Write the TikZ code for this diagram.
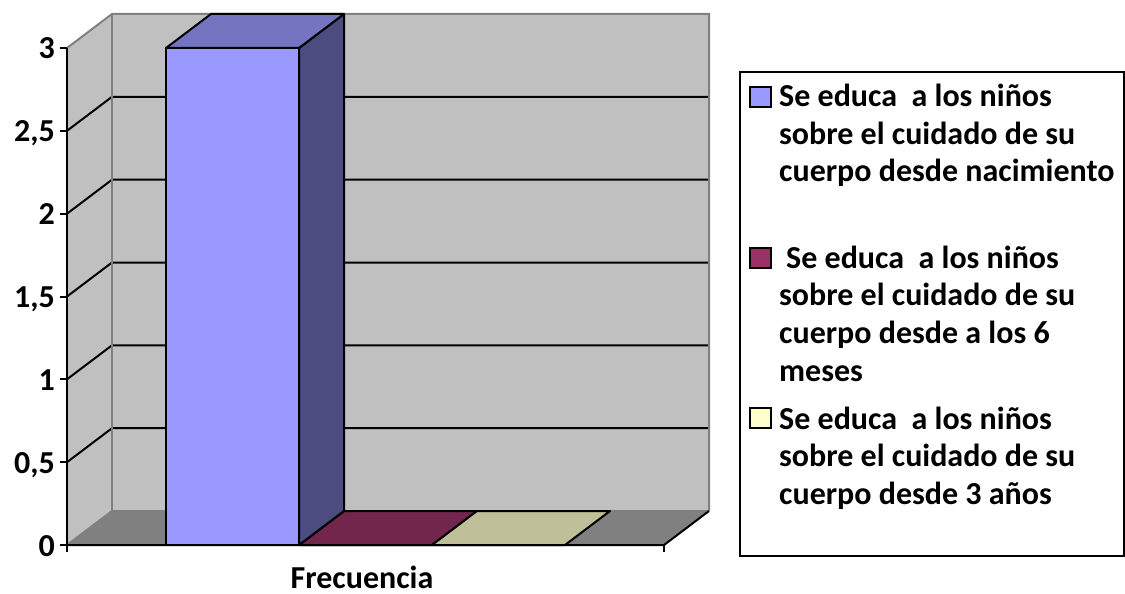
\documentclass[tikz,border=0pt]{standalone}
\usepackage{fontspec}
\setmainfont{Carlito}
\definecolor{wallc}{HTML}{C0C0C0}
\definecolor{floorc}{HTML}{808080}
\definecolor{edgec}{HTML}{808080}
\definecolor{barfront}{HTML}{9999FF}
\definecolor{bartop}{HTML}{7474C0}
\definecolor{barside}{HTML}{4C4C80}
\definecolor{sertwo}{HTML}{993366}
\definecolor{sertwotop}{HTML}{73264B}
\definecolor{serthree}{HTML}{FFFFCC}
\definecolor{serthreetop}{HTML}{BFBF99}
\begin{document}
\begin{tikzpicture}[x=1pt,y=-1pt,
  blk/.style={line width=2pt,black},
  gry/.style={line width=2pt,edgec},
  face/.style={draw=black,line width=2pt,line join=round},
  bigfont/.style={font=\fontsize{32}{37.5}\selectfont\bfseries},
  ticklab/.style={bigfont,anchor=base east,inner sep=0pt},
  legtxt/.style={bigfont,anchor=base west,inner sep=0pt},
  swatch/.style={draw=black,line width=1.8pt}]
\useasboundingbox (0,0) rectangle (1125,594);
\fill[white] (0,0) rectangle (1125,594);
% walls and floor
\fill[wallc] (112,14) rectangle (709,511);
\fill[wallc] (67,48) -- (112,14) -- (112,511) -- (67,545) -- cycle;
\fill[floorc] (67,545) -- (112,511) -- (709,511) -- (664,545) -- cycle;
% gridlines
\foreach \v in {130.8,213.7,296.5,379.3,462.2}{
  \draw[blk] (67,\v) -- ++(45,-34) -- ++(597,0);
}
% wall edges
\draw[gry] (67,48) -- (112,14) -- (709,14) -- (709,511);
\draw[gry] (112,14) -- (112,511) -- (709,511);
\draw[gry] (67,545) -- (112,511);
% zero-height series
\filldraw[face,fill=sertwotop] (299,545) -- (344,511) -- (477,511) -- (432,545) -- cycle;
\filldraw[face,fill=serthreetop] (432,545) -- (477,511) -- (610,511) -- (565,545) -- cycle;
% main bar
\filldraw[face,fill=barside] (299,48) -- (344,14) -- (344,511) -- (299,545) -- cycle;
\filldraw[face,fill=bartop] (166,48) -- (211,14) -- (344,14) -- (299,48) -- cycle;
\filldraw[face,fill=barfront] (166,48) rectangle (299,545);
% axes
\draw[blk] (67,48) -- (67,552);
\foreach \v in {48,130.8,213.7,296.5,379.3,462.2,545}{
  \draw[blk] (60,\v) -- (67,\v);
}
\draw[blk] (67,545) -- (664,545) -- (709,511);
\draw[blk] (664,545) -- (664,552);
% tick labels
\node[ticklab] (y3) at (55,59) {3};
\node[ticklab] (y25) at (55,141.8) {2,5};
\node[ticklab] (y2) at (55,224.7) {2};
\node[ticklab] (y15) at (55,307.5) {1,5};
\node[ticklab] (y1) at (55,390.3) {1};
\node[ticklab] (y05) at (55,473.2) {0,5};
\node[ticklab] (y0) at (55,556) {0};
\node[bigfont,anchor=base,inner sep=0pt] (xlab) at (362,588) {Frecuencia};
% legend
\draw[line width=2pt] (740,72) rectangle (1124,556);
\draw[swatch,fill=barfront] (750,87) rectangle (771,107);
\draw[swatch,fill=sertwo] (750,248) rectangle (771,268);
\draw[swatch,fill=serthree] (750,408) rectangle (771,428);
\node[legtxt] (la1) at (779,106.5) {Se educa\ \ a los niños};
\node[legtxt] (la2) at (779,144.2) {sobre el cuidado de su};
\node[legtxt] (la3) at (779,181.9) {cuerpo desde nacimiento};
\node[legtxt] (lb1) at (786,268) {Se educa\ \ a los niños};
\node[legtxt] (lb2) at (779,305.7) {sobre el cuidado de su};
\node[legtxt] (lb3) at (779,343.4) {cuerpo desde a los 6};
\node[legtxt] (lb4) at (779,381.1) {meses};
\node[legtxt] (lc1) at (779,429) {Se educa\ \ a los niños};
\node[legtxt] (lc2) at (779,466.7) {sobre el cuidado de su};
\node[legtxt] (lc3) at (779,504.4) {cuerpo desde 3 años};
\end{tikzpicture}
\end{document}
